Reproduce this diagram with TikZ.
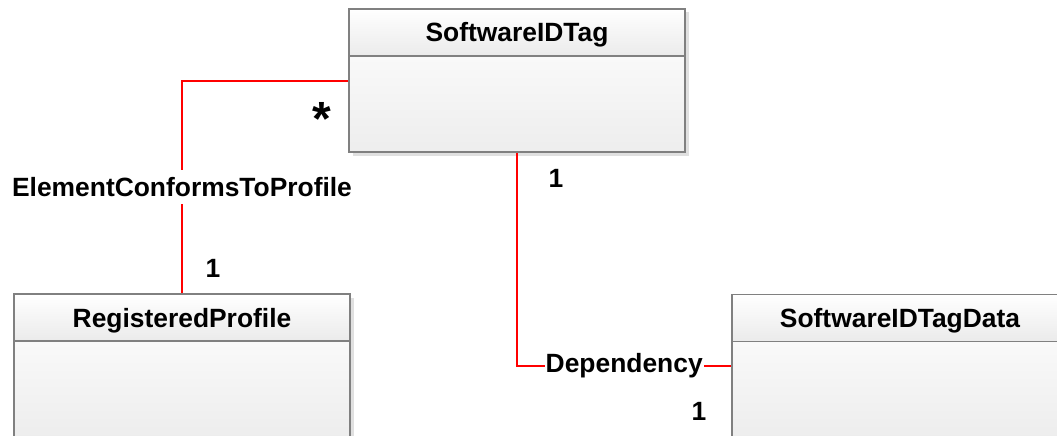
\documentclass[tikz,border=0pt]{standalone}
\usepackage{fontspec}
\setmainfont{Liberation Sans}
\usetikzlibrary{shadows}

\begin{document}
\begin{tikzpicture}[x=1pt,y=-1pt,
  font=\fontsize{26.4}{30}\selectfont\bfseries,
  classbox/.style={rectangle,draw=black!50,line width=1.2pt,top color=white,bottom color=black!7,
    minimum width=336pt,minimum height=143pt,inner sep=0pt,
    drop shadow={shadow xshift=3.5pt,shadow yshift=-3.5pt,fill=black!12,opacity=1}},
  classhead/.style={rectangle,draw=black!50,line width=1.2pt,top color=white,bottom color=black!8,
    minimum width=336pt,minimum height=47pt,inner sep=0pt,anchor=north,
    text height=19pt,text depth=0pt},
  assoc/.style={draw=red,line width=2pt},
  lbl/.style={fill=white,inner xsep=1pt,inner ysep=7pt},
  mult/.style={inner sep=0pt}]
\useasboundingbox (0,0) rectangle (1057,436);

\node[classbox] (tag) at (517,80.5) {};
\node[classhead] (taghead) at (tag.north) {SoftwareIDTag};

\node[classbox] (prof) at (182,365.5) {};
\node[classhead] (profhead) at (prof.north) {RegisteredProfile};

\node[classbox] (data) at (900,366) {};
\node[classhead] (datahead) at (data.north) {SoftwareIDTagData};

\draw[assoc] (tag.west) -| node[lbl,pos=0.75] {ElementConformsToProfile} (prof.north);
\draw[assoc] (tag.south) |- node[lbl,pos=0.75] {Dependency} (data.west);

\node[mult,font=\fontsize{48}{50}\selectfont\bfseries] (many) at (322,119) {*};
\node[mult] (oneprof) at (213,268) {1};
\node[mult] (onetag) at (556,178) {1};
\node[mult] (onedata) at (699,411) {1};
\end{tikzpicture}
\end{document}
